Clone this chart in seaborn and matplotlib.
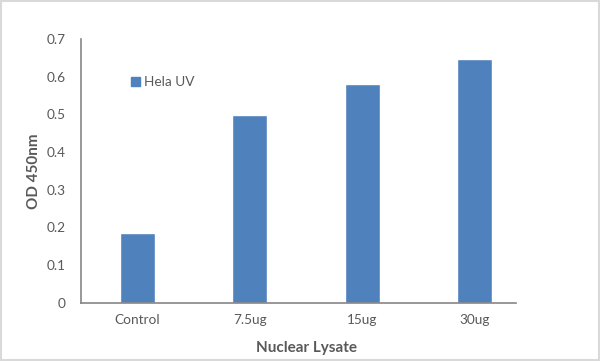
import matplotlib
matplotlib.use("Agg")
import matplotlib.pyplot as plt
import seaborn as sns
import pandas as pd
from matplotlib.patches import Rectangle

categories = ["Control", "7.5ug", "15ug", "30ug"]
values = [0.184, 0.498, 0.581, 0.647]
series_name = "Hela UV"
yticks = [0, 0.1, 0.2, 0.3, 0.4, 0.5, 0.6, 0.7]

sns.set_theme(style="white")
plt.rcParams['font.family'] = ['Lato', 'DejaVu Sans']

df = pd.DataFrame({"cat": categories, "val": values, "series": series_name})

fig = plt.figure(figsize=(6, 3.61), dpi=100)
ax = fig.add_axes([0.135, 0.1615, 0.75, 0.7305])
bar_color = "#4F81BD"
sns.barplot(data=df, x="cat", y="val", hue="series", palette=[bar_color],
            width=0.31, ax=ax, legend=False, saturation=1)

ax.set_xlim(-0.5, 3.5)
ax.set_ylim(0, 0.7)
ax.set_yticks(yticks)
ax.set_yticklabels(["0" if t == 0 else f"{t:.1f}" for t in yticks])
txtc = "#595959"
ax.tick_params(axis="both", colors=txtc, labelsize=9.8, length=0)
ax.tick_params(axis="y", pad=11)
ax.tick_params(axis="x", pad=8)
for s in ["top", "right"]:
    ax.spines[s].set_visible(False)
for s in ["left", "bottom"]:
    ax.spines[s].set_color("#868686")
    ax.spines[s].set_linewidth(1.2)
ax.spines["bottom"].set_bounds(-0.5, 3.37)

ax.set_xlabel("Nuclear Lysate", fontsize=11, fontweight="bold", color=txtc, labelpad=11)
ax.set_ylabel("OD 450nm", fontsize=11, fontweight="bold", color=txtc, labelpad=4)

# legend
h = Rectangle((0, 0), 1, 1, color=bar_color)
leg = ax.legend([h], [series_name], loc="upper left", bbox_to_anchor=(0.083, 0.905),
                frameon=False, fontsize=9.8, handlelength=0.7, handleheight=0.7,
                handletextpad=0.3, labelcolor=txtc)

# figure border
fig.patches.append(Rectangle((0.001, 0.002), 0.997, 0.995, transform=fig.transFigure,
                             fill=False, edgecolor="#D9D9D9", linewidth=1.5))

fig.savefig("out.png", dpi=100)
